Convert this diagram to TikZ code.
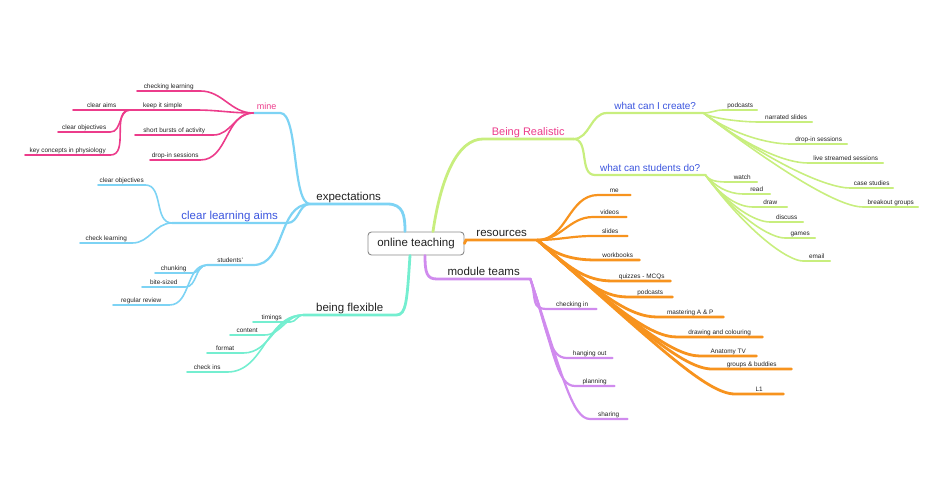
\documentclass[tikz,border=0pt]{standalone}
\usepackage{fontspec}
\setmainfont{Liberation Sans}
\definecolor{mmblue}{HTML}{7DD3F4}
\definecolor{mmpink}{HTML}{EC3C8B}
\definecolor{mmgreen}{HTML}{C8EE7E}
\definecolor{mmorange}{HTML}{F7931E}
\definecolor{mmpurple}{HTML}{D08BEE}
\definecolor{mmteal}{HTML}{74EED0}
\definecolor{mmtext}{HTML}{222222}
\definecolor{mmindigo}{HTML}{3B55DE}
\definecolor{mmgray}{HTML}{8A8A8A}

\begin{document}
\begin{tikzpicture}[x=1pt, y=-1pt,
    leaf/.style={font=\fontsize{6.4}{8}\selectfont, text=mmtext, inner xsep=0pt,
                 inner ysep=0.4pt, text depth=1.6pt, anchor=south west},
    topic/.style={font=\fontsize{11.5}{13}\selectfont, text=mmtext, inner xsep=0pt,
                  inner ysep=0.5pt, text depth=3pt, anchor=south west},
    sub/.style={font=\fontsize{10}{12}\selectfont, text=mmindigo, inner xsep=0pt,
                inner ysep=0.5pt, text depth=2.4pt, anchor=south west},
    br/.style={line width=1.6pt, line cap=round},
    br2/.style={line width=2.2pt, line cap=round},
    br3/.style={line width=2.8pt, line cap=round}
  ]
    \useasboundingbox (0,0) rectangle (942,500);

    % centre
    \node[draw=mmgray, line width=0.9pt, rounded corners=3.5pt, fill=white,
          minimum width=96pt, minimum height=23pt, inner sep=0pt, text=mmtext,
          font=\fontsize{11.5}{13}\selectfont] (ot) at (416,243.5) {online teaching};

    % expectations
    \node[topic, minimum width=77pt] (exp) at (310,204) {expectations};
    \node[sub, text=mmpink, font=\fontsize{9}{11}\selectfont, minimum width=27pt] (mine) at (253,113) {mine};
    \node[topic, text=mmindigo, minimum width=115pt] (cla) at (172,223) {clear learning aims};
    \node[leaf, minimum width=46pt] (stu) at (207,265) {students'};
    % mine
    \node[leaf, minimum width=63pt] (chkl) at (137,91) {checking learning};
    \node[leaf, minimum width=65pt] (kis) at (130,110) {keep it simple};
    \node[leaf, minimum width=57pt] (clra) at (73,110) {clear aims};
    \node[leaf, minimum width=52pt] (clro) at (58,132) {clear objectives};
    \node[leaf, minimum width=85pt] (kcp) at (25,155) {key concepts in physiology};
    \node[leaf, minimum width=78pt] (sbur) at (135,135) {short bursts of activity};
    \node[leaf, minimum width=50pt] (dis) at (150,160) {drop-in sessions};
    % clear learning aims
    \node[leaf, minimum width=47pt] (co2) at (98,185) {clear objectives};
    \node[leaf, minimum width=52pt] (chl) at (80,243) {check learning};
    % students'
    \node[leaf, minimum width=37pt] (chu) at (155,273) {chunking};
    \node[leaf, minimum width=43pt] (bit) at (142,287) {bite-sized};
    \node[leaf, minimum width=56pt] (rev) at (113,305) {regular review};

    % being flexible
    \node[topic, minimum width=93pt] (flex) at (303,315) {being flexible};
    \node[leaf, minimum width=37pt] (tim) at (253,322) {timings};
    \node[leaf, minimum width=34pt] (con) at (230,335) {content};
    \node[leaf, minimum width=36pt] (fmt) at (207,353) {format};
    \node[leaf, minimum width=40pt] (cki) at (187,372) {check ins};

    % Being Realistic
    \node[topic, text=mmpink, font=\fontsize{11}{13}\selectfont, minimum width=90pt] (real) at (483,139) {Being Realistic};
    \node[sub, minimum width=96pt] (cre) at (607,113) {what can I create?};
    \node[sub, minimum width=110pt] (sdo) at (595,175) {what can students do?};
    \node[leaf, minimum width=34pt] (pod) at (723,110) {podcasts};
    \node[leaf, minimum width=52pt] (nar) at (760,122) {narrated slides};
    \node[leaf, minimum width=57pt] (dro) at (790,144) {drop-in sessions};
    \node[leaf, minimum width=75pt] (liv) at (808,163) {live streamed sessions};
    \node[leaf, minimum width=43pt] (cas) at (850,188) {case studies};
    \node[leaf, minimum width=55pt] (brk) at (863,207) {breakout groups};
    \node[leaf, minimum width=30pt] (wat) at (727,182) {watch};
    \node[leaf, minimum width=27pt] (rea) at (743,194) {read};
    \node[leaf, minimum width=34pt] (drw) at (753,207) {draw};
    \node[leaf, minimum width=33pt] (dsc) at (770,222) {discuss};
    \node[leaf, minimum width=30pt] (gam) at (785,238) {games};
    \node[leaf, minimum width=27pt] (eml) at (803,261) {email};

    % resources
    \node[topic, minimum width=71pt] (res) at (466,240) {resources};
    \node[leaf, minimum width=32pt] (me) at (598,195) {me};
    \node[leaf, minimum width=33pt] (vid) at (593,217) {videos};
    \node[leaf, minimum width=34pt] (sli) at (593,236) {slides};
    \node[leaf, minimum width=43pt] (wbk) at (596,260) {workbooks};
    \node[leaf, minimum width=57pt] (quz) at (613,281) {quizzes - MCQs};
    \node[leaf, minimum width=44pt] (pdc) at (628,297) {podcasts};
    \node[leaf, minimum width=66pt] (mas) at (657,317) {mastering A \& P};
    \node[leaf, minimum width=85pt] (drc) at (677,337) {drawing and colouring};
    \node[leaf, minimum width=56pt] (atv) at (700,356) {Anatomy TV};
    \node[leaf, minimum width=79pt] (grp) at (712,369) {groups \& buddies};
    \node[leaf, minimum width=48pt] (l1) at (735,394) {L1};

    % module teams
    \node[topic, minimum width=93pt] (mod) at (437,279) {module teams};
    \node[leaf, minimum width=48pt] (chi) at (548,309) {checking in};
    \node[leaf, minimum width=45pt] (han) at (567,358) {hanging out};
    \node[leaf, minimum width=39pt] (pla) at (575,386) {planning};
    \node[leaf, minimum width=37pt] (sha) at (590,419) {sharing};

    % expectations branch
    \draw[mmblue, br3] ([xshift=-11pt]ot.north) .. controls +(0,-16) and +(16,0) .. (exp.south east) -- (exp.south west);
    \draw[mmblue, br2] (exp.south west) .. controls +(-18,0) and +(18,0) .. (mine.south east) -- (mine.south west);
    \draw[mmblue, br2] (exp.south west) to[out=180,in=0] (cla.south east) -- (cla.south west);
    \draw[mmblue, br2] (exp.south west) to[out=180,in=0] (stu.south east) -- (stu.south west);
    \foreach \n in {co2, chl}
      \draw[mmblue, br] (cla.south west) to[out=180,in=0] (\n.south east) -- (\n.south west);
    \foreach \n in {chu, bit, rev}
      \draw[mmblue, br] (stu.south west) to[out=180,in=0] (\n.south east) -- (\n.south west);
    \foreach \n in {chkl, kis, sbur, dis}
      \draw[mmpink, br] (mine.south west) to[out=180,in=0] (\n.south east) -- (\n.south west);
    \foreach \n in {clra, clro, kcp}
      \draw[mmpink, br] (kis.south west) to[out=180,in=0] (\n.south east) -- (\n.south west);

    % being flexible branch
    \draw[mmteal, br3] ([xshift=-6pt]ot.south) .. controls +(-3,45) and +(10,0) .. (flex.south east) -- (flex.south west);
    \foreach \n in {tim, con, fmt, cki}
      \draw[mmteal, br] (flex.south west) to[out=180,in=0] (\n.south east) -- (\n.south west);

    % Being Realistic branch
    \draw[mmgreen, br3] ([xshift=17pt]ot.north) .. controls +(8,-55) and +(-25,0) .. (real.south west) -- (real.south east);
    \draw[mmgreen, br2] (real.south east) to[out=0,in=180] (cre.south west) -- (cre.south east);
    \draw[mmgreen, br2] (real.south east) to[out=0,in=180] (sdo.south west) -- (sdo.south east);
    \draw[mmgreen, br] (cre.south east) to[out=0,in=180] (pod.south west) -- (pod.south east);
    \foreach \n/\cx/\cy in {nar/7/5, dro/28/21, liv/46/35, cas/70/52, brk/86/65}
      \draw[mmgreen, br] (cre.south east) .. controls +(\cx,\cy) and +(-22,0) .. (\n.south west) -- (\n.south east);
    \foreach \n/\cx/\cy in {wat/3/4, rea/9/11, drw/15/21, dsc/23/31, gam/31/42, eml/43/58}
      \draw[mmgreen, br] (sdo.south east) .. controls +(\cx,\cy) and +(-15,0) .. (\n.south west) -- (\n.south east);

    % resources branch
    \draw[mmorange, br3] (ot.east) -- (res.south west) -- (res.south east);
    \foreach \n in {me, vid, sli}
      \draw[mmorange, br2] (res.south east) to[out=0,in=180] (\n.south west) -- (\n.south east);
    \foreach \n/\cx/\cy in {wbk/16/13, quz/32/28, pdc/44/39, mas/60/53, drc/75/66, atv/90/80, grp/100/88, l1/120/106}
      \draw[mmorange, br3] (res.south east) .. controls +(\cx,\cy) and +(-28,0) .. (\n.south west) -- (\n.south east);

    % module teams branch
    \draw[mmpurple, br3] ([xshift=9pt]ot.south) .. controls +(0,18) and +(-10,0) .. (mod.south west) -- (mod.south east);
    \foreach \n/\cx/\cy in {chi/7/21, han/18/54, pla/24/73, sha/32/96}
      \draw[mmpurple, br2] (mod.south east) .. controls +(\cx,\cy) and +(-18,0) .. (\n.south west) -- (\n.south east);
\end{tikzpicture}
\end{document}
